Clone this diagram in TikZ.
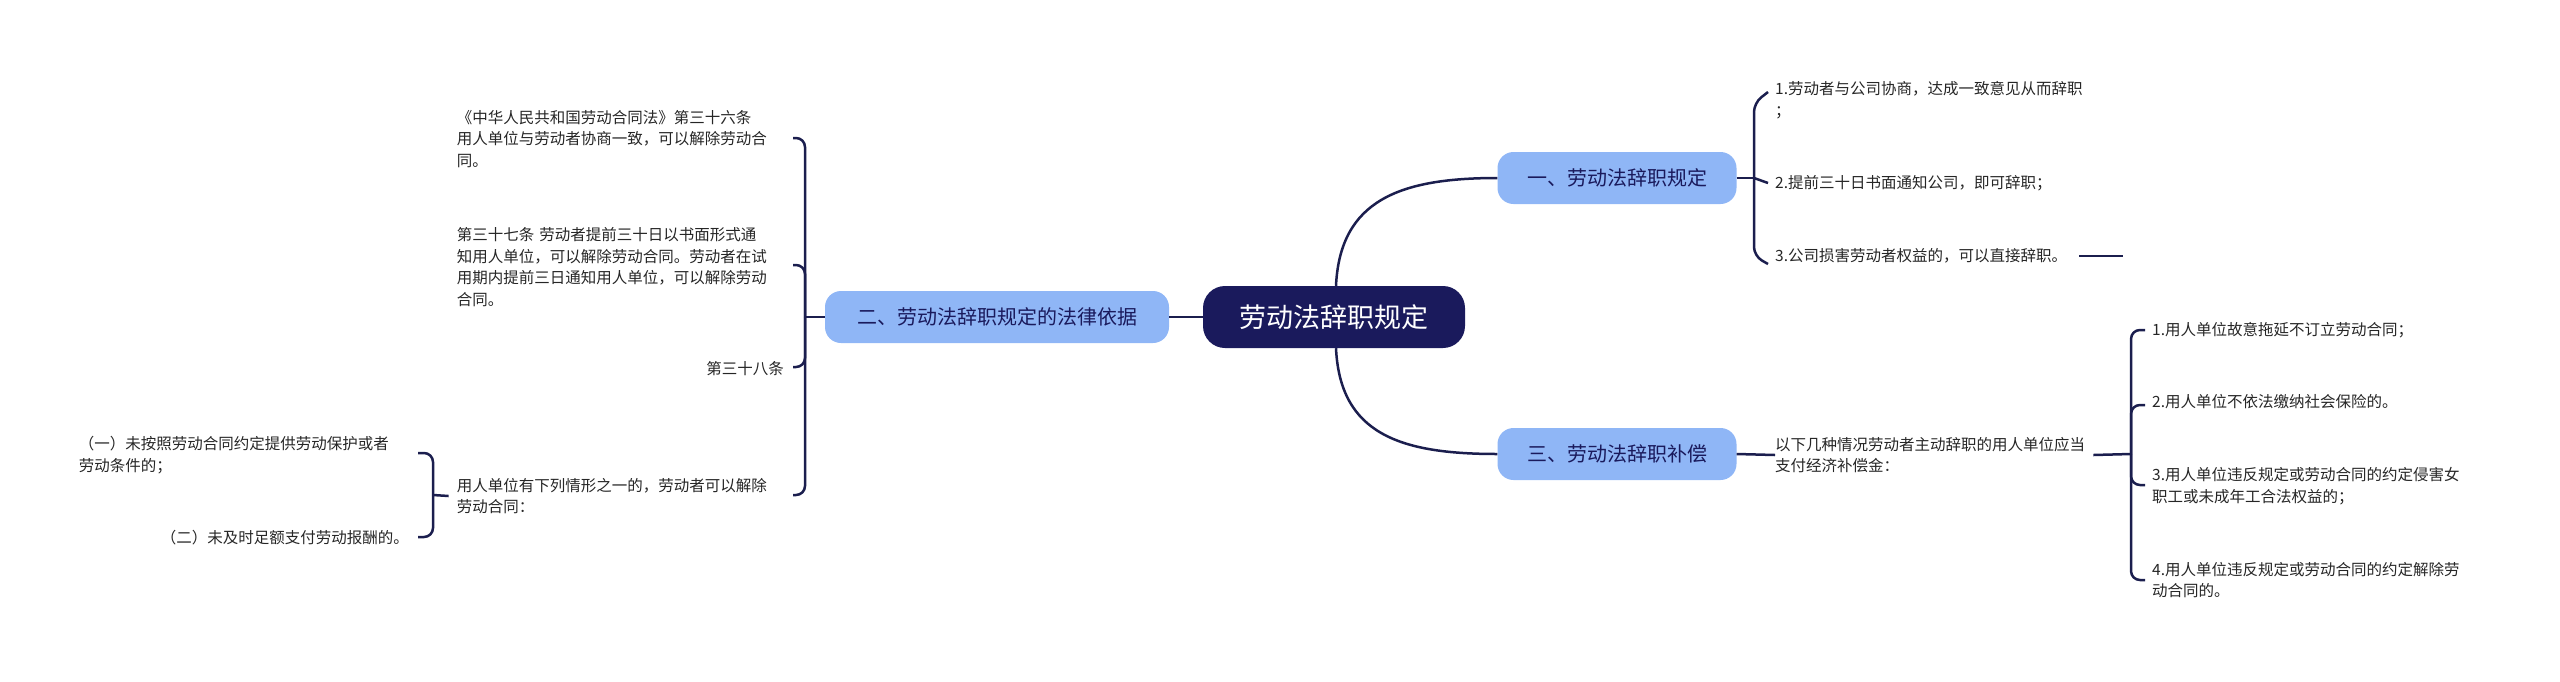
\documentclass[tikz,border=0pt]{standalone}
\usepackage{fontspec}
\setmainfont{Noto Sans CJK SC}
\definecolor{navy}{HTML}{1A1A5C}
\definecolor{lblue}{HTML}{8FB6F6}
\definecolor{lnc}{HTML}{1B1E4E}
\begin{document}
\begin{tikzpicture}[x=1pt,y=-1pt,
  leaf/.style={inner sep=0pt,font=\fontsize{15.5}{21.5}\selectfont,text=black!85,align=left},
  conn/.style={draw=lnc,line width=2.5pt},
  br/.style={conn,rounded corners=9pt},
  sub/.style={fill=lblue,rounded corners=16pt,minimum height=52pt,minimum width=239pt,inner sep=0pt,font=\fontsize{20}{24}\selectfont,text=navy}]
\useasboundingbox (0,0) rectangle (2560,681);
\node[fill=navy,rounded corners=22pt,minimum width=262pt,minimum height=62pt,text=white,font=\fontsize{27}{32}\selectfont] (c) at (1334,317) {劳动法辞职规定};
\node[sub] (n1) at (1617,178) {一、劳动法辞职规定};
\node[sub] (n3) at (1617,454) {三、劳动法辞职补偿};
\node[sub,minimum width=344pt] (n2) at (997,317) {二、劳动法辞职规定的法律依据};
% center links
\draw[conn] (c.north) ++(2,0) coordinate (ct) .. controls (1340,200) and (1400,178) .. (n1.west);
\draw[conn] (c.south) ++(2,0) coordinate (cb) .. controls (1340,434) and (1400,454) .. (n3.west);
\draw[conn] (c.west) -- (n2.east);
% branch 1
\node[leaf,anchor=west] (a1) at (1775,100) {1.劳动者与公司协商，达成一致意见从而辞职\\；};
\node[leaf,anchor=west] (a2) at (1775,183) {2.提前三十日书面通知公司，即可辞职；};
\node[leaf,anchor=west] (a3) at (1775,256) {3.公司损害劳动者权益的，可以直接辞职。};
\coordinate (j1) at (1754,178);
\draw[conn] (n1.east) -- (j1);
\draw[br] (j1) -- (1754,103) -- (1768,92);
\draw[br] (j1) -- (1754,256) -- (1768,264);
\draw[conn] (j1) -- (1768,183);
\coordinate (a3e) at (2123,256);
\draw[conn] ([xshift=12pt]a3.east) -- (a3e);
% branch 3
\node[leaf,anchor=west] (c0) at (1775,455) {以下几种情况劳动者主动辞职的用人单位应当\\支付经济补偿金：};
\draw[conn] (n3.east) -- (c0.west);
\coordinate (j3) at (2131,454);
\draw[conn] (c0.east) ++(8,0) -- (j3);
\node[leaf,anchor=west] (c1) at (2152,330) {1.用人单位故意拖延不订立劳动合同；};
\node[leaf,anchor=west] (c2) at (2152,402) {2.用人单位不依法缴纳社会保险的。};
\node[leaf,anchor=west] (c3) at (2152,486) {3.用人单位违反规定或劳动合同的约定侵害女\\职工或未成年工合法权益的；};
\node[leaf,anchor=west] (c4) at (2152,580) {4.用人单位违反规定或劳动合同的约定解除劳\\动合同的。};
\draw[br] (j3) -- (2131,330) -- (2145,330);
\draw[br] (j3) -- (2131,405) -- (2145,405);
\draw[br] (j3) -- (2131,485) -- (2145,485);
\draw[br] (j3) -- (2131,580) -- (2145,580);
% branch 2
\node[leaf,anchor=east,text width=332pt] (b1) at (789,139) {《中华人民共和国劳动合同法》第三十六条\\用人单位与劳动者协商一致，可以解除劳动合\\同。};
\node[leaf,anchor=east,text width=332pt] (b2) at (789,267) {第三十七条 劳动者提前三十日以书面形式通\\知用人单位，可以解除劳动合同。劳动者在试\\用期内提前三日通知用人单位，可以解除劳动\\合同。};
\node[leaf,anchor=east] (b3) at (784,369) {第三十八条};
\node[leaf,anchor=east,text width=332pt] (b4) at (789,496) {用人单位有下列情形之一的，劳动者可以解除\\劳动合同：};
\coordinate (j2) at (805,317);
\draw[conn] (n2.west) -- (j2);
\draw[br] (j2) -- (805,138) -- (793,138);
\draw[br] (j2) -- (805,265) -- (793,265);
\draw[br] (j2) -- (805,367) -- (793,367);
\draw[br] (j2) -- (805,495) -- (793,495);
% sub of b4
\node[leaf,anchor=east,text width=330pt] (d1) at (409,455) {（一）未按照劳动合同约定提供劳动保护或者\\劳动条件的；};
\node[leaf,anchor=east] (d2) at (409,538) {（二）未及时足额支付劳动报酬的。};
\coordinate (j4) at (433,495);
\draw[conn] (b4.west) ++(-8,0) -- (j4);
\draw[br] (j4) -- (433,453) -- (418,453);
\draw[br] (j4) -- (433,537) -- (418,537);
\end{tikzpicture}
\end{document}
